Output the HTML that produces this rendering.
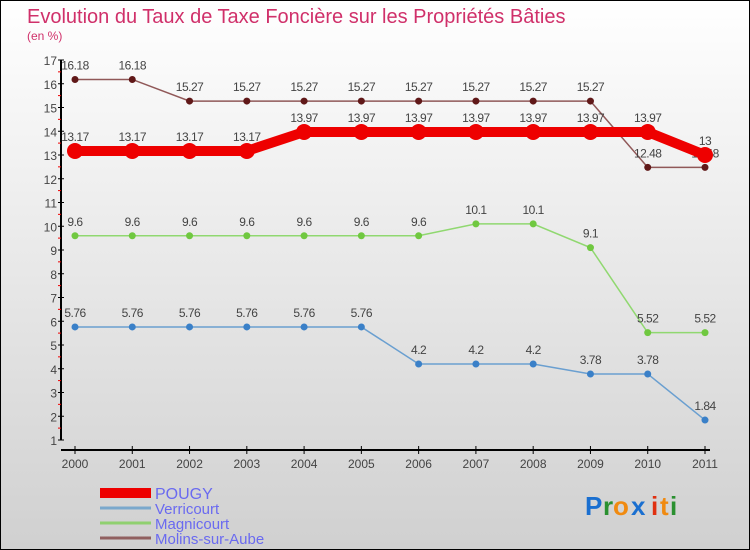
<!DOCTYPE html>
<html><head><meta charset="utf-8"><style>
body{margin:0;}
#wrap{position:relative;width:750px;height:550px;overflow:hidden;background:linear-gradient(#ffffff,#d0d0d0);font-family:"Liberation Sans",sans-serif;}
svg{position:absolute;left:0;top:0;}
</style></head><body>
<div id="wrap">
<svg id="svg" width="750" height="550" xmlns="http://www.w3.org/2000/svg">
<rect x="0.5" y="0.5" width="749" height="549" fill="none" stroke="#000" stroke-width="1"/>
<text x="27" y="23" font-size="20" fill="#d0306a">Evolution du Taux de Taxe Foncière sur les Propriétés Bâties</text>
<text x="27" y="40" font-size="12" fill="#d0306a">(en %)</text>
<g id="axes"></g>
<g id="series"></g>
<g id="legend"></g>
<g font-size="26" font-weight="bold">
<text x="585" y="515" fill="#1a6fd0">P</text><text x="603" y="515" fill="#2a9030">r</text><text x="613" y="515" fill="#f08a10">o</text><text x="631" y="515" fill="#1a6fd0">x</text><text x="651" y="515" fill="#e03010">i</text><text x="660" y="515" fill="#f08a10">t</text><text x="670" y="515" fill="#2a9030">i</text>
</g>
</svg>
</div>
<script>
const years=[2000,2001,2002,2003,2004,2005,2006,2007,2008,2009,2010,2011];
const pougy=[13.17,13.17,13.17,13.17,13.97,13.97,13.97,13.97,13.97,13.97,13.97,13];
const verricourt=[5.76,5.76,5.76,5.76,5.76,5.76,4.2,4.2,4.2,3.78,3.78,1.84];
const magnicourt=[9.6,9.6,9.6,9.6,9.6,9.6,9.6,10.1,10.1,9.1,5.52,5.52];
const molins=[16.18,16.18,15.27,15.27,15.27,15.27,15.27,15.27,15.27,15.27,12.48,12.48];
const yTicks=[1,2,3,4,5,6,7,8,9,10,11,12,13,14,15,16,17];
const NS="http://www.w3.org/2000/svg";
function X(i){return 75+i*(630/(years.length-1));}
function Y(v){return 440-(v-1)*23.75;}
function mk(tag,attrs,parent){const e=document.createElementNS(NS,tag);for(const k in attrs)e.setAttribute(k,attrs[k]);parent.appendChild(e);return e;}
const axes=document.getElementById('axes');
let l=mk('line',{x1:61,y1:Y(17),x2:61,y2:Y(1),stroke:'#000','stroke-width':2},axes);


l=mk('line',{x1:61,y1:450,x2:710,y2:450,stroke:'#000','stroke-width':2},axes);


yTicks.forEach(v=>{
  const y=Y(v);
  mk('line',{x1:58,y1:y,x2:64,y2:y,stroke:'#000'},axes);
  if(v<17)mk('line',{x1:58,y1:y-11.9,x2:61,y2:y-11.9,stroke:'#e00'},axes);
  const t=mk('text',{x:57,y:y+5,'font-size':12,fill:'#444','text-anchor':'end'},axes);
  t.textContent=v;
  
  
});
years.forEach((yr,i)=>{
  mk('line',{x1:X(i),y1:446,x2:X(i),y2:454,stroke:'#000'},axes);
  const t=mk('text',{x:X(i),y:468,'font-size':12,fill:'#444','text-anchor':'middle'},axes);
  t.textContent=yr;
  
  
});
const ser=document.getElementById('series');
function draw(vals,color,dot,w,r,name){
  const g=mk('g',{},ser);
  
  
  mk('polyline',{points:vals.map((v,i)=>X(i)+','+Y(v)).join(' '),fill:'none',stroke:color,'stroke-width':w},g);
  vals.forEach((v,i)=>{
    const c=mk('circle',{cx:X(i),cy:Y(v),r:r,fill:dot},g);
    
    
    const t=mk('text',{x:X(i),y:Y(v)-10,'font-size':12,fill:'#444','text-anchor':'middle','letter-spacing':'-0.5'},g);
    t.textContent=v;
    
    
  });
}
draw(verricourt,'#6a9fd0','#3a80c8',1.5,3.5,'series-verricourt');
draw(magnicourt,'#90d870','#70c840',1.5,3.5,'series-magnicourt');
draw(molins,'#905858','#601818',1.5,3.5,'series-molins-sur-aube');
draw(pougy,'#ee0000','#ee0000',10,8,'series-pougy');
const leg=document.getElementById('legend');
const items=[['POUGY','#ee0000',10,16],['Verricourt','#7aa8cc',3,15],['Magnicourt','#90d070',3,15],['Molins-sur-Aube','#906060',3,15]];
items.forEach((it,k)=>{
  const y=493+k*15;
  const g=mk('g',{},leg);
  
  
  mk('line',{x1:100,y1:y,x2:151,y2:y,stroke:it[1],'stroke-width':it[2]},g);
  const t=mk('text',{x:155,y:y+6,'font-size':it[3],fill:'#6a6af0'},g);
  t.textContent=it[0];
});
</script>
</body></html>
